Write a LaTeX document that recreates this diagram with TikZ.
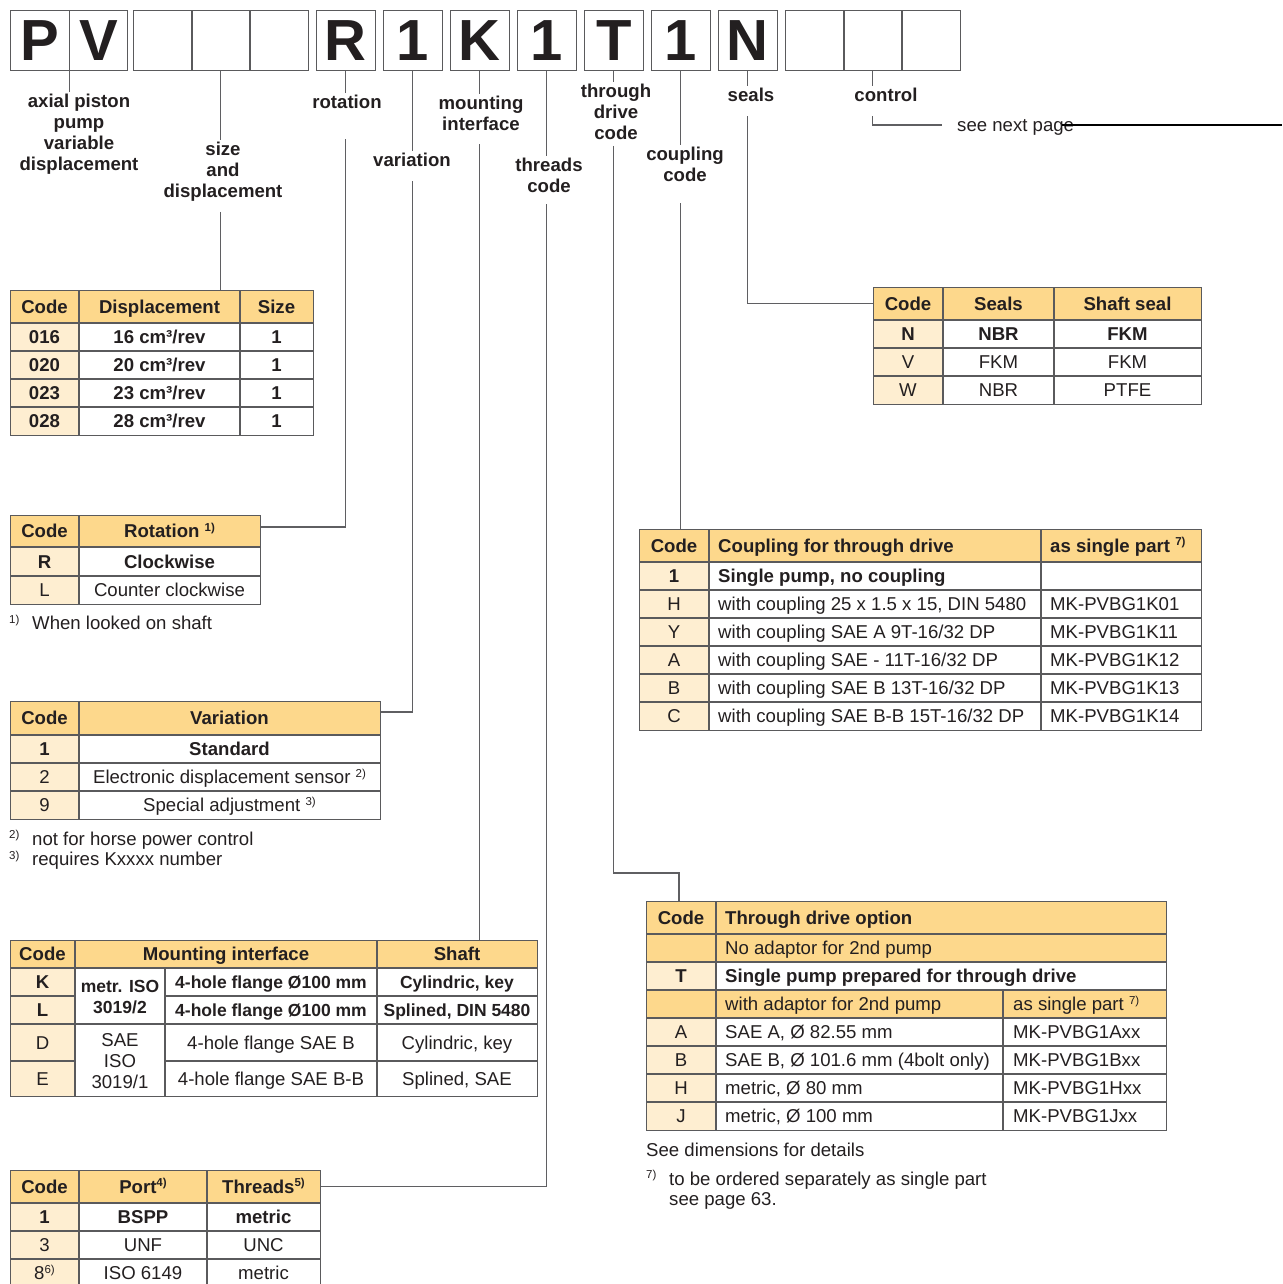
\documentclass[tikz,border=0pt]{standalone}
\usepackage{fontspec}
\setmainfont{Liberation Sans}
\usetikzlibrary{positioning, calc}

\definecolor{hdrfill}{RGB}{253,216,140}
\definecolor{codfill}{RGB}{254,238,209}
\definecolor{tabgray}{RGB}{90,90,92}
\definecolor{leadgray}{RGB}{95,95,98}
\definecolor{ink}{RGB}{35,31,32}

\newcommand\nf{\fontsize{18.6}{20.9}\selectfont}
\newcommand\nfs{\fontsize{17.5}{21.5}\selectfont}
\newcommand\fnm[1]{\raisebox{6.5pt}{\fontsize{11.5}{12}\selectfont #1}}
\newcommand\fnlab[1]{\makebox[23pt][l]{\fnm{#1}}}

\tikzset{
  codebox/.style={draw=tabgray, line width=1.2pt, anchor=north west, minimum width=58.5pt, minimum height=60pt, inner sep=0pt, font=\fontsize{58}{58}\selectfont\bfseries},
  lab/.style={align=center, font=\nf\bfseries, inner sep=2pt},
  lead/.style={draw=leadgray, line width=1.1pt},
  tline/.style={draw=tabgray, line width=1.4pt},
  tab/.style={draw=tabgray, line width=1.4pt, anchor=north west, inner sep=0pt},
  cell/.style={inner sep=0pt, text height=13.4pt, text depth=0pt, font=\nf},
  bcell/.style={cell, font=\nf\bfseries},
  scell/.style={cell, font=\nfs\bfseries},
  lcell/.style={cell, anchor=west},
  lbcell/.style={bcell, anchor=west},
}

\begin{document}
\begin{tikzpicture}[x=1pt, y=-1pt, font=\nf, text=ink]
\useasboundingbox (0,0) rectangle (1282,1284);

% code boxes
\foreach \nm/\xx/\ch in {bP/10/P, bV/68.5/V, bS1/133/, bS2/191/, bS3/249/, bR/316/R, bVar/383/1, bK/450/K, bThr/517/1, bT/584/T, bCpl/651/1, bN/718/N, bC1/785/, bC2/843/, bC3/901/}
  \node[codebox] (\nm) at (\xx,10) {\ch};

% labels
\node[lab] (lAx) at (79,134) {axial piston\\pump\\variable\\displacement};
\node[lab] (lSize) at (223,172) {size\\and\\displacement};
\node[lab] (lRot) at (347,102) {rotation};
\node[lab] (lVar) at (412,160) {variation};
\node[lab] (lMnt) at (481,113) {mounting\\interface};
\node[lab] (lThr) at (549,175) {threads\\code};
\node[lab] (lThd) at (616,112) {through\\drive\\code};
\node[lab] (lCpl) at (685,164) {coupling\\code};
\node[lab] (lSeal) at (751,95) {seals};
\node[lab] (lCtl) at (886,95) {control};
\node[lcell] (lNext) at (957,125) {see next page};
\coordinate (pgEnd) at (1282,125);
\coordinate (kThd) at (679,873);

% displacement table
\fill[hdrfill] (10,290) rectangle (313,323);
\fill[codfill] (10,323) rectangle (79,435);
\foreach \yy in {323,351,379,407} \draw[tline] (10,\yy) -- (313,\yy);
\foreach \xx in {79,240} \draw[tline] (\xx,290) -- (\xx,435);
\node[tab, minimum width=303pt, minimum height=145pt] (tDisp) at (10,290) {};
\node[bcell] (hDisp1) at (44.5,306.5) {Code};
\node[bcell] (hDisp2) at (159.5,306.5) {Displacement};
\node[bcell] (hDisp3) at (276.5,306.5) {Size};
\foreach \yy/\cc/\vv in {337/016/16, 365/020/20, 393/023/23, 421/028/28} {
  \node[bcell] (dc\cc) at (44.5,\yy) {\cc};
  \node[bcell] (dv\cc) at (159.5,\yy) {\vv\ cm³/rev};
  \node[bcell] (ds\cc) at (276.5,\yy) {1};
}

% rotation table
\fill[hdrfill] (10,515) rectangle (260,547);
\fill[codfill] (10,547) rectangle (79,604);
\draw[tline] (10,547) -- (260,547) (10,576) -- (260,576) (79,515) -- (79,604);
\node[tab, minimum width=250pt, minimum height=89pt] (tRot) at (10,515) {};
\node[bcell] (hRot1) at (44.5,531) {Code};
\node[bcell] (hRot) at (169.5,531) {Rotation \fnm{1)}};
\node[bcell] (rR) at (44.5,561.5) {R};
\node[bcell] (rRt) at (169.5,561.5) {Clockwise};
\node[cell] (rL) at (44.5,590) {L};
\node[cell] (rLt) at (169.5,590) {Counter clockwise};
\node[lcell] (fnRot) at (9,623) {\fnlab{1)}When looked on shaft};

% variation table
\fill[hdrfill] (10,701) rectangle (380,735);
\fill[codfill] (10,735) rectangle (79,819);
\draw[tline] (10,735) -- (380,735) (10,763) -- (380,763) (10,791) -- (380,791) (79,701) -- (79,819);
\node[tab, minimum width=370pt, minimum height=118pt] (tVar) at (10,701) {};
\node[bcell] (hVar1) at (44.5,718) {Code};
\node[bcell] (hVar) at (229.5,718) {Variation};
\node[bcell] (v1) at (44.5,749) {1};
\node[bcell] (v1t) at (229.5,749) {Standard};
\node[cell] (v2) at (44.5,777) {2};
\node[cell] (v2t) at (229.5,777) {Electronic displacement sensor \fnm{2)}};
\node[cell] (v9) at (44.5,805) {9};
\node[cell] (v9t) at (229.5,805) {Special adjustment \fnm{3)}};
\node[anchor=west, align=left, inner sep=0pt] (fnVar) at (9,850) {\fnlab{2)}not for horse power control\\\fnlab{3)}requires Kxxxx number};

% mounting table
\fill[hdrfill] (10,940) rectangle (537,968);
\fill[codfill] (10,968) rectangle (75,1096);
\draw[tline] (10,968) -- (537,968) (10,996) -- (75,996) (165,996) -- (537,996) (10,1024) -- (537,1024)
  (10,1061) -- (75,1061) (165,1061) -- (537,1061) (75,940) -- (75,1096) (165,968) -- (165,1096) (377,940) -- (377,1096);
\node[tab, minimum width=527pt, minimum height=156pt] (tMnt) at (10,940) {};
\node[bcell] (hMnt1) at (42.5,954) {Code};
\node[bcell] (hMnt) at (226,954) {Mounting interface};
\node[bcell] (hMnt3) at (457,954) {Shaft};
\node[bcell] (mK) at (42.5,982) {K};
\node[bcell] (mL) at (42.5,1010) {L};
\node[cell] (mD) at (42.5,1042.5) {D};
\node[cell] (mE) at (42.5,1078.5) {E};
\node[align=center, inner sep=0pt, font=\nfs\bfseries] (mIso2) at (120,997) {metr. ISO\\3019/2};
\node[align=center, inner sep=0pt] (mIso1) at (120,1061) {SAE\\ISO\\3019/1};
\node[scell] (mKf) at (271,982) {4-hole flange Ø100 mm};
\node[scell] (mLf) at (271,1010) {4-hole flange Ø100 mm};
\node[cell] (mDf) at (271,1042.5) {4-hole flange SAE B};
\node[cell] (mEf) at (271,1078.5) {4-hole flange SAE B-B};
\node[scell] (mKs) at (457,982) {Cylindric, key};
\node[scell] (mLs) at (457,1010) {Splined, DIN 5480};
\node[cell] (mDs) at (457,1042.5) {Cylindric, key};
\node[cell] (mEs) at (457,1078.5) {Splined, SAE};

% threads table
\fill[hdrfill] (10,1170) rectangle (320,1203);
\fill[codfill] (10,1203) rectangle (79,1290);
\draw[tline] (10,1203) -- (320,1203) (10,1231) -- (320,1231) (10,1259) -- (320,1259) (79,1170) -- (79,1290) (207,1170) -- (207,1290);
\node[tab, minimum width=310pt, minimum height=118pt] (tThr) at (10,1170) {};
\node[bcell] (hThr1) at (44.5,1186.5) {Code};
\node[bcell] (hThr2) at (143,1186.5) {Port\fnm{4)}};
\node[bcell] (hThr) at (263.5,1186.5) {Threads\fnm{5)}};
\node[bcell] (th1) at (44.5,1217) {1};
\node[bcell] (th1p) at (143,1217) {BSPP};
\node[bcell] (th1t) at (263.5,1217) {metric};
\node[cell] (th3) at (44.5,1245) {3};
\node[cell] (th3p) at (143,1245) {UNF};
\node[cell] (th3t) at (263.5,1245) {UNC};
\node[cell] (th8) at (44.5,1273) {8\fnm{6)}};
\node[cell] (th8p) at (143,1273) {ISO 6149};
\node[cell] (th8t) at (263.5,1273) {metric};

% seals table
\fill[hdrfill] (873,287) rectangle (1201,320);
\fill[codfill] (873,320) rectangle (943,404);
\draw[tline] (873,320) -- (1201,320) (873,348) -- (1201,348) (873,376) -- (1201,376) (943,287) -- (943,404) (1054,287) -- (1054,404);
\node[tab, minimum width=328pt, minimum height=117pt] (tSeal) at (873,287) {};
\node[bcell] (hSeal) at (908,303.5) {Code};
\node[bcell] (hSeal2) at (998.5,303.5) {Seals};
\node[bcell] (hSeal3) at (1127.5,303.5) {Shaft seal};
\node[bcell] (sN) at (908,334) {N};
\node[bcell] (sNa) at (998.5,334) {NBR};
\node[bcell] (sNb) at (1127.5,334) {FKM};
\node[cell] (sV) at (908,362) {V};
\node[cell] (sVa) at (998.5,362) {FKM};
\node[cell] (sVb) at (1127.5,362) {FKM};
\node[cell] (sW) at (908,390) {W};
\node[cell] (sWa) at (998.5,390) {NBR};
\node[cell] (sWb) at (1127.5,390) {PTFE};

% coupling table
\fill[hdrfill] (639,529) rectangle (1201,562);
\fill[codfill] (639,562) rectangle (709,730);
\foreach \yy in {562,590,618,646,674,702} \draw[tline] (639,\yy) -- (1201,\yy);
\draw[tline] (709,529) -- (709,730) (1041,529) -- (1041,730);
\node[tab, minimum width=562pt, minimum height=201pt] (tCpl) at (639,529) {};
\node[bcell] (hCpl1) at (674,545.5) {Code};
\node[lbcell] (hCpl2) at (718,545.5) {Coupling for through drive};
\node[lbcell] (hCpl3) at (1050,545.5) {as single part \fnm{7)}};
\node[bcell] (c1) at (674,576) {1};
\node[lbcell] (c1t) at (718,576) {Single pump, no coupling};
\foreach \yy/\cc/\pp in {604/H/01, 632/Y/11, 660/A/12, 688/B/13, 716/C/14} {
  \node[cell] (c\cc) at (674,\yy) {\cc};
  \node[lcell] (c\cc p) at (1050,\yy) {MK-PVBG1K\pp};
}
\node[lcell] (cHt) at (718,604) {with coupling 25 x 1.5 x 15, DIN 5480};
\node[lcell] (cYt) at (718,632) {with coupling SAE A 9T-16/32 DP};
\node[lcell] (cAt) at (718,660) {with coupling SAE - 11T-16/32 DP};
\node[lcell] (cBt) at (718,688) {with coupling SAE B 13T-16/32 DP};
\node[lcell] (cCt) at (718,716) {with coupling SAE B-B 15T-16/32 DP};

% through drive table
\fill[hdrfill] (646,901) rectangle (1166,962);
\fill[hdrfill] (646,990) rectangle (1166,1018);
\fill[codfill] (646,962) rectangle (716,990);
\fill[codfill] (646,1018) rectangle (716,1130);
\foreach \yy in {934,962,990,1018,1046,1074,1102} \draw[tline] (646,\yy) -- (1166,\yy);
\draw[tline] (716,901) -- (716,1130) (1003,990) -- (1003,1130);
\node[tab, minimum width=520pt, minimum height=229pt] (tThd) at (646,901) {};
\node[bcell] (hThd1) at (681,917.5) {Code};
\node[lbcell] (hThd2) at (725,917.5) {Through drive option};
\node[lcell] (dNo) at (725,948) {No adaptor for 2nd pump};
\node[bcell] (dT) at (681,976) {T};
\node[lbcell] (dTt) at (725,976) {Single pump prepared for through drive};
\node[lcell] (dW) at (725,1004) {with adaptor for 2nd pump};
\node[lcell] (dWp) at (1013,1004) {as single part \fnm{7)}};
\foreach \yy/\cc in {1032/A, 1060/B, 1088/H, 1116/J} {
  \node[cell] (d\cc) at (681,\yy) {\cc};
  \node[lcell] (d\cc p) at (1013,\yy) {MK-PVBG1\cc xx};
}
\node[lcell] (dAt) at (725,1032) {SAE A, Ø 82.55 mm};
\node[lcell] (dBt) at (725,1060) {SAE B, Ø 101.6 mm (4bolt only)};
\node[lcell] (dHt) at (725,1088) {metric, Ø 80 mm};
\node[lcell] (dJt) at (725,1116) {metric, Ø 100 mm};
\node[lcell] (fnThd1) at (646,1150) {See dimensions for details};
\node[anchor=west, align=left, inner sep=0pt] (fnThd2) at (646,1190) {\fnlab{7)}to be ordered separately as single part\\\hspace*{23pt}see page 63.};

% connectors
\draw[lead] (bP.south east) -- (bP.south east |- lAx.north);
\draw[lead] (bS2.south) -- (bS2.south |- lSize.north);
\draw[lead] ([yshift=-8pt]bS2.south |- lSize.south) -- (bS2.south |- tDisp.north);
\draw[lead] (bR.south) -- (bR.south |- lRot.north);
\draw[lead] ([yshift=-28pt]bR.south |- lRot.south) |- ([yshift=4pt]tRot.east |- hRot);
\draw[lead] (bVar.south) -- (bVar.south |- lVar.north);
\draw[lead] ([yshift=-12pt]bVar.south |- lVar.south) |- ([yshift=6pt]tVar.east |- hVar);
\draw[lead] (bK.south) -- (bK.south |- lMnt.north);
\draw[lead] ([yshift=-12pt]bK.south |- lMnt.south) -- (bK.south |- tMnt.north);
\draw[lead] (bThr.south) -- (bThr.south |- lThr.north);
\draw[lead] ([yshift=-10pt]bThr.south |- lThr.south) |- (tThr.east |- hThr);
\draw[lead] (bT.south) -- (bT.south |- lThd.north);
\draw[lead] ([yshift=-4pt]bT.south |- lThd.south) |- (kThd) -- (kThd |- tThd.north);
\draw[lead] (bCpl.south) -- (bCpl.south |- lCpl.north);
\draw[lead] ([yshift=-20pt]bCpl.south |- lCpl.south) -- (bCpl.south |- tCpl.north);
\draw[lead] (bN.south) -- (bN.south |- lSeal.north);
\draw[lead] ([yshift=-12pt]bN.south |- lSeal.south) |- (tSeal.west |- hSeal);
\draw[lead] (bC2.south) -- (bC2.south |- lCtl.north);
\draw[lead] ([yshift=-12pt]bC2.south |- lCtl.south) |- ([xshift=-15pt]lNext.west);
\draw[line width=2pt, black] ([xshift=-12pt]lNext.east) -- (pgEnd);
\end{tikzpicture}
\end{document}
